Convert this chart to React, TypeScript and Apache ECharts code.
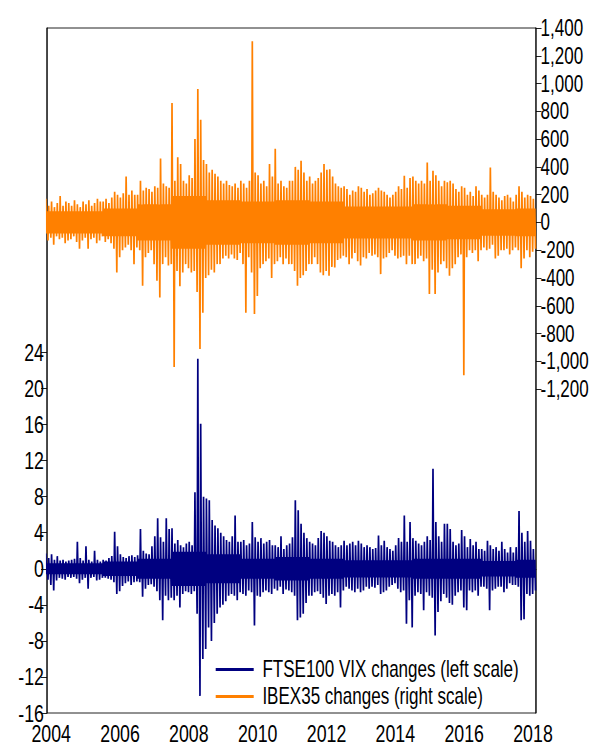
import React, { useEffect, useRef } from 'react';
import * as echarts from 'echarts';

// first month of the sample: May 2004, monthly high / low of daily changes
const START_YEAR = 2004;
const START_MONTH = 5;

const ibexHigh = [
  // 2004 May-Dec
  170, 120, 150, 110, 140, 190, 120, 150,
  // 2005
  140, 120, 160, 130, 110, 150, 130, 160, 120, 140, 170, 150,
  // 2006
  150, 170, 140, 180, 220, 200, 180, 210, 330, 200, 230, 200,
  // 2007
  200, 300, 230, 250, 240, 220, 260, 250, 460, 280, 260, 250,
  // 2008
  860, 300, 470, 420, 300, 280, 340, 320, 600, 960, 740, 450,
  // 2009
  420, 360, 380, 350, 330, 300, 280, 300, 270, 260, 280, 250,
  // 2010
  300, 280, 250, 300, 1305, 360, 340, 280, 300, 260, 420, 330,
  // 2011
  530, 280, 300, 260, 250, 300, 300, 400, 380, 444, 360, 300,
  // 2012
  330, 280, 300, 320, 360, 420, 380, 383, 330, 280, 260, 250,
  // 2013
  260, 240, 200, 230, 220, 260, 250, 220, 240, 200, 210, 230,
  // 2014
  250, 230, 220, 200, 180, 200, 220, 260, 240, 336, 250, 320,
  // 2015
  330, 300, 280, 300, 280, 432, 300, 372, 340, 300, 260, 300,
  // 2016
  290, 300, 280, 240, 220, 260, 250, 200, 220, 190, 260, 230,
  // 2017
  200, 180, 200, 396, 220, 200, 180, 160, 190, 200, 180, 150,
  // 2018 Jan-Jul
  200, 260, 220, 180, 200, 190, 170,
];

const ibexLow = [
  // 2004
  -130, -110, -160, -100, -120, -110, -150, -130,
  // 2005
  -120, -100, -140, -190, -130, -110, -190, -120, -110, -150, -130, -100,
  // 2006
  -140, -120, -150, -190, -360, -250, -200, -180, -160, -200, -300, -180,
  // 2007
  -200, -456, -250, -220, -200, -300, -420, -540, -300, -250, -310, -300,
  // 2008
  -1040, -350, -460, -360, -300, -330, -360, -350, -500, -912, -650, -400,
  // 2009
  -380, -340, -360, -300, -300, -260, -240, -260, -230, -260, -270, -220,
  // 2010
  -300, -650, -250, -360, -660, -530, -330, -300, -280, -260, -400, -300,
  // 2011
  -280, -250, -300, -260, -300, -300, -350, -456, -400, -380, -350, -300,
  // 2012
  -300, -250, -300, -360, -380, -350, -384, -320, -324, -270, -260, -240,
  // 2013
  -250, -300, -260, -220, -280, -310, -250, -260, -220, -240, -230, -250,
  // 2014
  -372, -260, -250, -220, -200, -240, -260, -250, -240, -300, -240, -300,
  // 2015
  -300, -260, -240, -280, -260, -516, -340, -516, -360, -300, -280, -330,
  // 2016
  -384, -330, -300, -250, -230, -1100, -250, -200, -220, -200, -280, -200,
  // 2017
  -180, -200, -190, -160, -260, -240, -200, -200, -190, -230, -200, -180,
  // 2018
  -200, -330, -260, -200, -250, -210, -190,
];

// half-height of the dense core band of each year, 2004..2018
const ibexCore = [80, 80, 100, 130, 190, 160, 150, 160, 150, 115, 115, 130, 120, 95, 100];

const vixHigh = [
  // 2004
  1.7, 1.2, 1.6, 1.0, 1.4, 0.9, 1.0, 0.8,
  // 2005
  0.9, 1.0, 1.1, 3.0, 1.2, 0.9, 2.5, 1.0, 0.8, 2.0, 1.0, 0.8,
  // 2006
  1.0, 0.9, 1.2, 1.4, 4.1, 2.5, 1.6, 1.3, 1.2, 1.4, 1.5, 1.3,
  // 2007
  1.5, 4.4, 2.0, 1.7, 1.6, 2.5, 3.6, 5.6, 3.5, 3.0, 5.6, 4.4,
  // 2008
  4.5, 2.8, 3.2, 2.6, 2.4, 2.8, 3.0, 2.6, 8.5, 23.3, 16.1, 8.0,
  // 2009
  7.8, 7.6, 5.4, 4.8, 4.5, 4.0, 3.6, 3.2, 3.0, 3.6, 5.9, 3.0,
  // 2010
  3.0, 3.2, 2.6, 2.8, 5.2, 3.5, 3.0, 3.4, 2.8, 3.0, 3.2, 2.6,
  // 2011
  2.6, 2.4, 3.6, 2.2, 2.6, 2.8, 3.5, 7.6, 6.5, 5.0, 4.0, 3.4,
  // 2012
  3.0, 2.8, 2.6, 3.4, 4.2, 4.0, 3.6, 3.1, 3.0, 2.6, 2.4, 2.6,
  // 2013
  3.1, 2.6, 2.8, 3.0, 2.6, 3.1, 2.8, 2.4, 2.6, 2.4, 2.2, 2.3,
  // 2014
  3.7, 2.6, 3.1, 2.4, 2.2, 2.0, 2.6, 3.4, 3.0, 5.9, 3.0, 5.2,
  // 2015
  3.4, 3.1, 2.8, 2.6, 3.0, 3.6, 3.2, 11.1, 5.2, 3.6, 3.0, 5.0,
  // 2016
  5.0, 4.4, 3.0, 2.6, 2.8, 4.3, 3.6, 2.4, 3.3, 2.6, 3.0, 2.2,
  // 2017
  2.2, 2.0, 3.1, 2.6, 2.2, 2.4, 2.0, 3.0, 2.2, 1.8, 2.4, 1.8,
  // 2018
  2.4, 6.4, 4.0, 3.0, 4.2, 3.1, 2.2,
];

const vixLow = [
  // 2004
  -1.2, -1.8, -2.4, -1.3, -1.0, -1.1, -1.2, -0.9,
  // 2005
  -1.0, -0.9, -1.1, -1.6, -1.2, -1.0, -2.2, -1.0, -0.9, -1.3, -1.2, -1.0,
  // 2006
  -1.0, -1.1, -1.2, -1.5, -2.8, -2.5, -1.9, -1.6, -1.4, -1.8, -1.5, -1.4,
  // 2007
  -1.5, -3.1, -2.2, -1.8, -1.7, -2.0, -2.5, -3.5, -5.7, -3.0, -3.5, -3.2,
  // 2008
  -3.5, -3.0, -4.3, -2.8, -2.5, -2.6, -2.8, -2.5, -5.0, -14.1, -10.0, -8.9,
  // 2009
  -6.5, -8.0, -6.0, -5.0, -4.3, -4.0, -3.6, -3.0, -2.8, -3.0, -3.5, -2.6,
  // 2010
  -2.8, -3.0, -2.4, -2.6, -6.3, -3.0, -3.1, -2.6, -2.4, -2.6, -2.8, -2.2,
  // 2011
  -2.4, -2.0, -2.8, -2.3, -2.4, -2.6, -3.0, -5.7, -5.4, -5.0, -3.8, -3.0,
  // 2012
  -3.0, -2.6, -2.5, -2.8, -3.2, -3.9, -3.0, -2.8, -3.0, -2.6, -4.3, -2.4,
  // 2013
  -2.0, -2.2, -2.4, -2.6, -2.2, -2.6, -2.4, -2.0, -2.2, -2.0, -2.1, -1.8,
  // 2014
  -2.8, -2.6, -2.4, -2.0, -1.8, -1.6, -2.2, -2.6, -2.4, -6.1, -3.5, -6.5,
  // 2015
  -3.0, -2.6, -2.8, -4.6, -2.6, -3.0, -3.2, -7.4, -4.8, -3.6, -2.8, -3.2,
  // 2016
  -3.8, -4.0, -3.0, -2.6, -2.4, -4.3, -4.6, -2.4, -2.6, -2.4, -3.0, -2.0,
  // 2017
  -2.0, -2.2, -4.6, -2.4, -2.2, -2.0, -2.0, -2.6, -2.2, -1.6, -1.8, -1.8,
  // 2018
  -2.0, -5.7, -5.6, -2.8, -3.0, -2.8, -2.4,
];

const vixCore = [0.6, 0.6, 0.8, 1.1, 1.9, 1.6, 1.1, 1.3, 1.1, 0.95, 0.95, 1.1, 1.1, 0.85, 1.0];

const yearLabels = [2004, 2006, 2008, 2010, 2012, 2014, 2016, 2018];
const leftTicks = [-16, -12, -8, -4, 0, 4, 8, 12, 16, 20, 24];
const rightTicks = [-1200, -1000, -800, -600, -400, -200, 0, 200, 400, 600, 800, 1000, 1200, 1400];

const X_MIN = 2004.378;
const X_MAX = 2018.587;
const FONT = "'Liberation Sans', Arial, sans-serif";
// the whole chart is drawn K times wider, then squeezed back horizontally,
// which gives the condensed lettering of the original
const K = 1.35;

function buildSeries(hi: number[], lo: number[], core: number[]) {
  const out: number[][] = [];
  for (let m = 0; m < hi.length; m++) {
    const idx = START_MONTH - 1 + m;
    const t0 = START_YEAR + idx / 12;
    const c = core[Math.floor(idx / 12)];
    out.push([t0 + 0.125 / 12, hi[m]]);
    out.push([t0 + 0.375 / 12, -c]);
    out.push([t0 + 0.625 / 12, c]);
    out.push([t0 + 0.875 / 12, lo[m]]);
  }
  return out;
}

export default function App() {
  const ref = useRef<HTMLDivElement>(null);
  useEffect(() => {
    if (!ref.current) return;
    const chart = echarts.init(ref.current, undefined, { renderer: 'svg' });
    const quarterTicks: number[] = [];
    for (let y = 2004.5; y <= X_MAX; y += 0.25) quarterTicks.push(y);
    const majorTicks: number[] = [];
    for (let y = 2005; y <= X_MAX; y += 2) majorTicks.push(y);
    const hLine = { color: '#000', width: 1 };
    const vLine = { color: '#000', width: K };
    chart.setOption({
      animation: false,
      backgroundColor: '#fff',
      grid: { left: 47 * K, top: 28, width: 489 * K, height: 685, show: true, borderColor: '#000', borderWidth: 1 },
      xAxis: [
        {
          type: 'value', min: X_MIN, max: X_MAX, position: 'bottom',
          axisLine: { show: true, lineStyle: hLine },
          axisTick: { show: true, inside: true, length: 3, customValues: quarterTicks, lineStyle: vLine },
          axisLabel: {
            customValues: yearLabels.map((y) => y + 0.5),
            formatter: (v: number) => String(Math.floor(v)),
            fontSize: 24, color: '#000', fontFamily: FONT, margin: 8,
          },
          splitLine: { show: false },
        },
        {
          type: 'value', min: X_MIN, max: X_MAX, position: 'bottom',
          axisLine: { show: false },
          axisTick: { show: true, inside: true, length: 6, customValues: majorTicks, lineStyle: vLine },
          axisLabel: { show: false },
          splitLine: { show: false },
        },
      ],
      yAxis: [
        {
          type: 'value', min: -16, max: 60, position: 'left',
          axisLine: { show: true, lineStyle: vLine },
          axisTick: { show: true, length: 6 * K, customValues: leftTicks, lineStyle: hLine },
          axisLabel: { customValues: leftTicks, fontSize: 24, color: '#000', fontFamily: FONT, margin: 3 * K },
          splitLine: { show: false },
        },
        {
          type: 'value', min: -3532, max: 1400, position: 'right',
          axisLine: { show: true, lineStyle: vLine },
          axisTick: { show: true, length: 5.5 * K, customValues: rightTicks, lineStyle: hLine },
          axisLabel: {
            customValues: rightTicks,
            formatter: (v: number) => v.toLocaleString('en-US'),
            fontSize: 23, color: '#000', fontFamily: FONT, margin: 4.5 * K,
          },
          splitLine: { show: false },
        },
      ],
      legend: {
        orient: 'vertical', left: 212 * K, top: 653, itemWidth: 38 * K, itemHeight: 3, itemGap: 4,
        icon: 'rect',
        textStyle: { fontSize: 23, fontFamily: FONT, color: '#000', padding: [0, 0, 0, 5 * K] },
        data: ['FTSE100 VIX changes (left scale)', 'IBEX35 changes (right scale)'],
      },
      series: [
        {
          type: 'line', name: 'FTSE100 VIX changes (left scale)', xAxisIndex: 0, yAxisIndex: 0,
          data: buildSeries(vixHigh, vixLow, vixCore), symbol: 'none', showSymbol: false,
          lineStyle: { color: '#000080', width: 2.3 }, itemStyle: { color: '#000080' },
        },
        {
          type: 'line', name: 'IBEX35 changes (right scale)', xAxisIndex: 0, yAxisIndex: 1,
          data: buildSeries(ibexHigh, ibexLow, ibexCore), symbol: 'none', showSymbol: false,
          lineStyle: { color: '#ff8000', width: 2.3 }, itemStyle: { color: '#ff8000' },
        },
      ],
    });
    return () => chart.dispose();
  }, []);
  return (
    <div style={{ position: 'absolute', left: 0, top: 0, width: 597, height: 747, overflow: 'hidden', background: '#fff' }}>
      <div
        ref={ref}
        style={{ width: Math.round(597 * K), height: 747, transform: `scaleX(${1 / K})`, transformOrigin: '0 0' }}
      />
    </div>
  );
}
